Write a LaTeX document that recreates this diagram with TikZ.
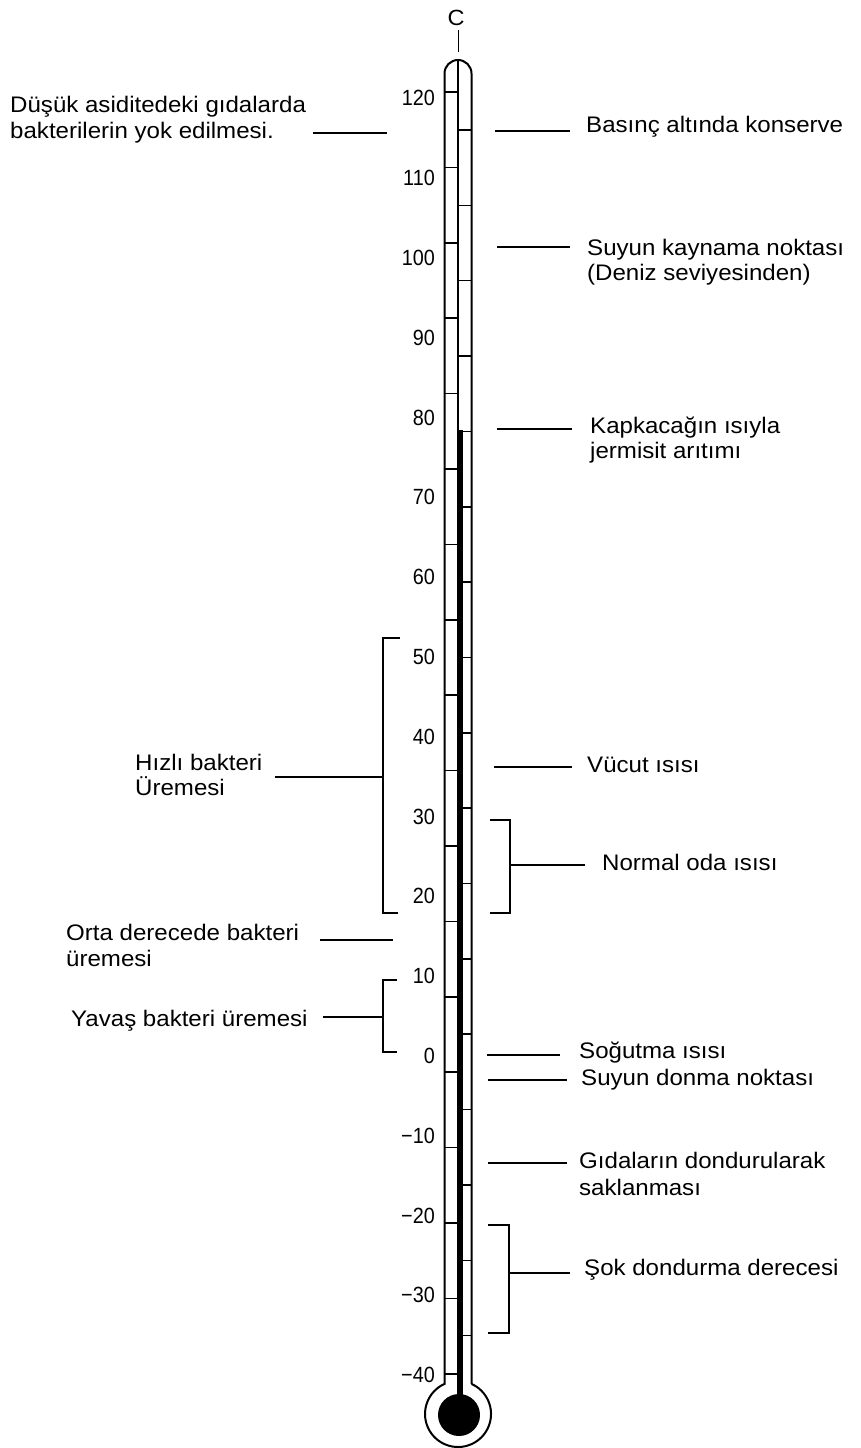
\documentclass[tikz,border=0pt]{standalone}
\usepackage{fontspec}
\setmainfont[FakeStretch=1.07]{Liberation Sans}
\newfontfamily\numfont[FakeStretch=0.9]{Liberation Sans}
\begin{document}
\begin{tikzpicture}[x=1pt,y=-1pt,
  lbl/.style={font=\fontsize{22.5}{26}\selectfont, inner sep=0pt, anchor=base west},
  num/.style={font=\numfont\fontsize{22}{24}\selectfont, inner sep=0pt, anchor=base east},
  wall/.style={line width=2pt},
  tickmark/.style={line width=1.5pt},
  lead/.style={line width=1.5pt},
  brk/.style={line width=1.5pt, line join=miter}]
% background / bounding box
\fill[white] (0,0) rectangle (861,1448);
\useasboundingbox (0,0) rectangle (861,1448);

% ---------- thermometer ----------
\node[font=\fontsize{22}{24}\selectfont, inner sep=0pt, anchor=base] (cl) at (456,25) {C};
\coordinate (cA) at (458,30);
\coordinate (cB) at (458,52);
\draw[line width=1pt] (cA) -- (cB);

% tube + bulb outline
\draw[wall] (471.5,1383.9) -- (471.5,73.5) arc[start angle=0,end angle=180,radius=13.5pt]
  -- (444.5,1383.9) arc[start angle=114.2,end angle=425.8,radius=33pt];
% divider
\coordinate (dA) at (458,60);
\coordinate (dB) at (458,432);
\draw[line width=1.3pt] (dA) -- (dB);
% left ticks
\foreach \k in {0,...,17}
  \draw[tickmark] (444.5,{92+75.4*\k}) -- (458,{92+75.4*\k});
% right ticks
\foreach \k in {0,...,16}
  \draw[tickmark] (458,{130+75.35*\k}) -- (471.5,{130+75.35*\k});
% mercury
\coordinate (mA) at (460,430);
\coordinate (mB) at (460,1400);
\draw[line width=6pt] (mA) -- (mB);
\fill (459,1415) circle[radius=21pt];

% scale numbers
\foreach \t/\s in {120/120,110/110,100/100,90/90,80/80,70/70,60/60,50/50,40/40,30/30,20/20,10/10,0/0,-10/−10,-20/−20,-30/−30,-40/−40}
  \node[num] (n\t) at (435,{1063.5-7.98*\t}) {\s};

% ---------- left labels ----------
\node[lbl] (dus1) at (10,112) {Düşük asiditedeki gıdalarda};
\node[lbl] (dus2) at (10,138) {bakterilerin yok edilmesi.};
\coordinate (dusA) at (313,133); \coordinate (dusB) at (387,133);
\draw[lead] (dusA) -- (dusB);

\node[lbl] (hiz1) at (135,770) {Hızlı bakteri};
\node[lbl] (hiz2) at (135,795) {Üremesi};
\coordinate (hizA) at (275,777); \coordinate (hizB) at (383,777);
\draw[lead] (hizA) -- (hizB);
\coordinate (hizT) at (400,638); \coordinate (hizU) at (398,913);
\draw[brk] (hizT) -- (383,638) -- (383,913) -- (hizU);

\node[lbl] (ort1) at (66,940) {Orta derecede bakteri};
\node[lbl] (ort2) at (66,966) {üremesi};
\coordinate (ortA) at (320,940); \coordinate (ortB) at (393,940);
\draw[lead] (ortA) -- (ortB);

\node[lbl] (yav) at (71,1026) {Yavaş bakteri üremesi};
\coordinate (yavA) at (323,1017); \coordinate (yavB) at (383,1017);
\draw[lead] (yavA) -- (yavB);
\coordinate (yavT) at (397,980); \coordinate (yavU) at (397,1052);
\draw[brk] (yavT) -- (383,980) -- (383,1052) -- (yavU);

% ---------- right labels ----------
\node[lbl] (bas) at (586,132) {Basınç altında konserve};
\coordinate (basA) at (495,131); \coordinate (basB) at (570,131);
\draw[lead] (basA) -- (basB);

\node[lbl] (suy1) at (587,255) {Suyun kaynama noktası};
\node[lbl] (suy2) at (587,280) {(Deniz seviyesinden)};
\coordinate (suyA) at (497,247); \coordinate (suyB) at (570,247);
\draw[lead] (suyA) -- (suyB);

\node[lbl] (kap1) at (590,433) {Kapkacağın ısıyla};
\node[lbl] (kap2) at (590,458) {jermisit arıtımı};
\coordinate (kapA) at (497,429); \coordinate (kapB) at (572,429);
\draw[lead] (kapA) -- (kapB);

\node[lbl] (vuc) at (587,772) {Vücut ısısı};
\coordinate (vucA) at (494,767); \coordinate (vucB) at (572,767);
\draw[lead] (vucA) -- (vucB);

\node[lbl] (nor) at (602,870) {Normal oda ısısı};
\coordinate (norA) at (510,865); \coordinate (norB) at (585,865);
\draw[lead] (norA) -- (norB);
\coordinate (norT) at (490,820); \coordinate (norU) at (490,913);
\draw[brk] (norT) -- (510,820) -- (510,913) -- (norU);

\node[lbl] (sog) at (579,1058) {Soğutma ısısı};
\coordinate (sogA) at (487,1055); \coordinate (sogB) at (560,1055);
\draw[lead] (sogA) -- (sogB);

\node[lbl] (don) at (581,1085) {Suyun donma noktası};
\coordinate (donA) at (488,1080); \coordinate (donB) at (567,1080);
\draw[lead] (donA) -- (donB);

\node[lbl] (gid1) at (579,1168) {Gıdaların dondurularak};
\node[lbl] (gid2) at (579,1195) {saklanması};
\coordinate (gidA) at (488,1163); \coordinate (gidB) at (567,1163);
\draw[lead] (gidA) -- (gidB);

\node[lbl] (sok) at (584,1275) {Şok dondurma derecesi};
\coordinate (sokA) at (509,1273); \coordinate (sokB) at (570,1273);
\draw[lead] (sokA) -- (sokB);
\coordinate (sokT) at (488,1225); \coordinate (sokU) at (488,1333);
\draw[brk] (sokT) -- (509,1225) -- (509,1333) -- (sokU);
\end{tikzpicture}
\end{document}
